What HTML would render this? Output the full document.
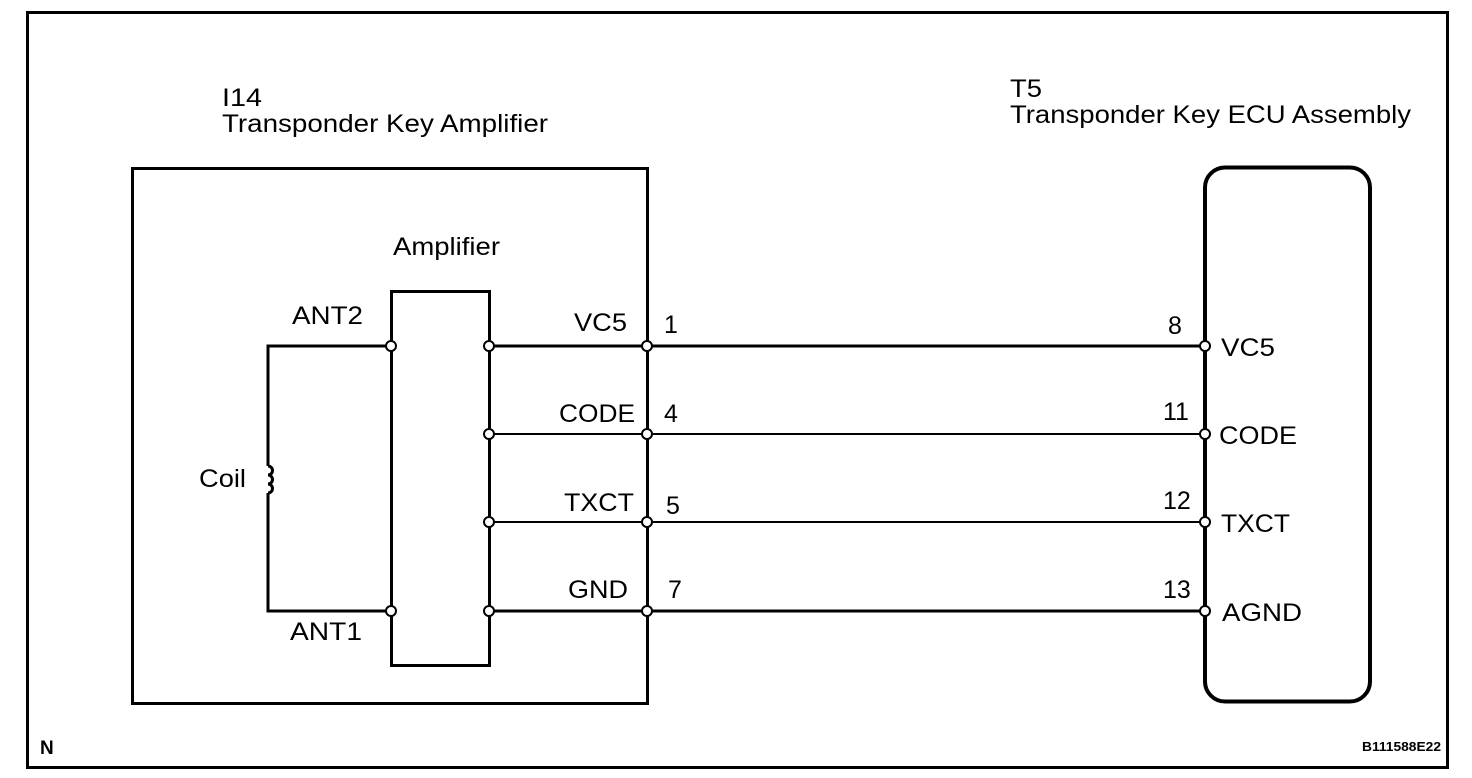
<!DOCTYPE html>
<html><head><style>body{margin:0;background:#fff}svg{display:block}text{font-family:"Liberation Sans",Arial,sans-serif;fill:#000}</style></head>
<body>
<svg width="1472" height="778" viewBox="0 0 1472 778" xmlns="http://www.w3.org/2000/svg">
<rect x="27.5" y="12.5" width="1420" height="755" fill="none" stroke="#000" stroke-width="3"/>
<g font-size="25" lengthAdjust="spacingAndGlyphs">
<text x="222" y="106" textLength="40" lengthAdjust="spacingAndGlyphs">I14</text>
<text x="222" y="132" textLength="326" lengthAdjust="spacingAndGlyphs">Transponder Key Amplifier</text>
<text x="1010" y="97" textLength="32" lengthAdjust="spacingAndGlyphs">T5</text>
<text x="1010" y="123" textLength="401" lengthAdjust="spacingAndGlyphs">Transponder Key ECU Assembly</text>
<text x="393" y="255" textLength="107" lengthAdjust="spacingAndGlyphs">Amplifier</text>
<text x="292" y="324" textLength="71" lengthAdjust="spacingAndGlyphs">ANT2</text>
<text x="290" y="640" textLength="72" lengthAdjust="spacingAndGlyphs">ANT1</text>
<text x="199" y="487" textLength="47" lengthAdjust="spacingAndGlyphs">Coil</text>
<text x="574" y="331" textLength="53" lengthAdjust="spacingAndGlyphs">VC5</text>
<text x="559" y="422" textLength="76" lengthAdjust="spacingAndGlyphs">CODE</text>
<text x="564" y="511" textLength="70" lengthAdjust="spacingAndGlyphs">TXCT</text>
<text x="568" y="598" textLength="60" lengthAdjust="spacingAndGlyphs">GND</text>
<text x="664" y="333">1</text>
<text x="664" y="422">4</text>
<text x="666" y="514">5</text>
<text x="668" y="598">7</text>
<text x="1168" y="334">8</text>
<text x="1163" y="420">11</text>
<text x="1163" y="509">12</text>
<text x="1163" y="598">13</text>
<text x="1221" y="356" textLength="54" lengthAdjust="spacingAndGlyphs">VC5</text>
<text x="1219" y="444" textLength="78" lengthAdjust="spacingAndGlyphs">CODE</text>
<text x="1221" y="532" textLength="69" lengthAdjust="spacingAndGlyphs">TXCT</text>
<text x="1222" y="621" textLength="80" lengthAdjust="spacingAndGlyphs">AGND</text>
<text x="40" y="754" font-size="19" font-weight="bold">N</text>
<text x="1441" y="751" font-size="13" font-weight="bold" text-anchor="end" textLength="79" lengthAdjust="spacingAndGlyphs">B111588E22</text>
</g>
<g fill="none" stroke="#000">
<rect x="132.5" y="168.5" width="515" height="535" stroke-width="3"/>
<rect x="391.5" y="291.5" width="98" height="374" stroke-width="3"/>
<rect x="1205" y="167.5" width="165" height="534" rx="20" stroke-width="4"/>
<path d="M391 346H268V466M268 493V611H391" stroke-width="3"/>
<path d="M268 466a4.5 4.5 0 0 1 0 9a4.5 4.5 0 0 1 0 9a4.5 4.5 0 0 1 0 9" stroke-width="3"/>
<path d="M489 346H1204M489 611H1204" stroke-width="3"/>
<path d="M489 434H1204M489 522H1204" stroke-width="2"/>
</g>
<g fill="#fff" stroke="#000" stroke-width="2">
<circle cx="391" cy="346" r="5"/><circle cx="391" cy="611" r="5"/>
<circle cx="489" cy="346" r="5"/><circle cx="489" cy="434" r="5"/><circle cx="489" cy="522" r="5"/><circle cx="489" cy="611" r="5"/>
<circle cx="647" cy="346" r="5"/><circle cx="647" cy="434" r="5"/><circle cx="647" cy="522" r="5"/><circle cx="647" cy="611" r="5"/>
<circle cx="1205" cy="346" r="5"/><circle cx="1205" cy="434" r="5"/><circle cx="1205" cy="522" r="5"/><circle cx="1205" cy="611" r="5"/>
</g>
</svg>
</body></html>
